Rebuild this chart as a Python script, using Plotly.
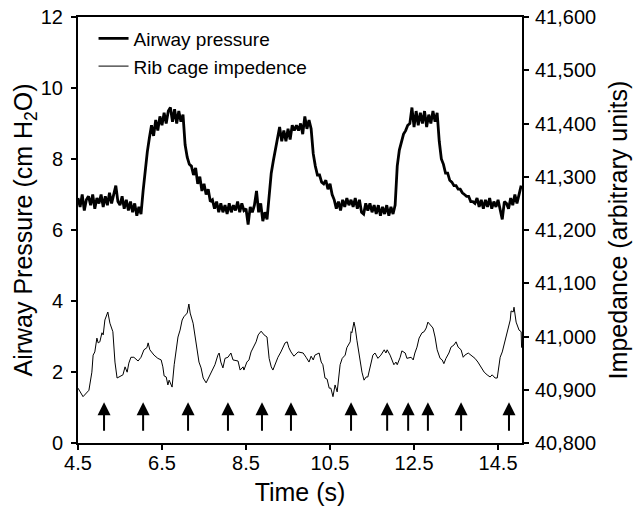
import plotly.graph_objects as go

# ---------------- data ----------------
pressure_time = [
    4.50, 4.55, 4.60, 4.65, 4.70, 4.75, 4.80, 4.85, 4.90, 4.95,
    5.00, 5.05, 5.10, 5.15, 5.20, 5.25, 5.30, 5.35, 5.40, 5.45,
    5.50, 5.55, 5.60, 5.65, 5.70, 5.75, 5.80, 5.85, 5.90, 5.95,
    6.00, 6.05, 6.10, 6.15, 6.20, 6.25, 6.30, 6.35, 6.40, 6.45,
    6.50, 6.55, 6.60, 6.65, 6.70, 6.75, 6.80, 6.85, 6.90, 6.95,
    7.00, 7.05, 7.10, 7.15, 7.20, 7.25, 7.30, 7.35, 7.40, 7.45,
    7.50, 7.55, 7.60, 7.65, 7.70, 7.75, 7.80, 7.85, 7.90, 7.95,
    8.00, 8.05, 8.10, 8.15, 8.20, 8.25, 8.30, 8.35, 8.40, 8.45,
    8.50, 8.55, 8.60, 8.65, 8.70, 8.75, 8.80, 8.85, 8.90, 8.95,
    9.00, 9.05, 9.10, 9.15, 9.20, 9.25, 9.30, 9.35, 9.40, 9.45,
    9.50, 9.55, 9.60, 9.65, 9.70, 9.75, 9.80, 9.85, 9.90, 9.95,
    10.00, 10.05, 10.10, 10.15, 10.20, 10.25, 10.30, 10.35, 10.40, 10.45,
    10.50, 10.55, 10.60, 10.65, 10.70, 10.75, 10.80, 10.85, 10.90, 10.95,
    11.00, 11.05, 11.10, 11.15, 11.20, 11.25, 11.30, 11.35, 11.40, 11.45,
    11.50, 11.55, 11.60, 11.65, 11.70, 11.75, 11.80, 11.85, 11.90, 11.95,
    12.00, 12.05, 12.10, 12.15, 12.20, 12.25, 12.30, 12.35, 12.40, 12.45,
    12.50, 12.55, 12.60, 12.65, 12.70, 12.75, 12.80, 12.85, 12.90, 12.95,
    13.00, 13.05, 13.10, 13.15, 13.20, 13.25, 13.30, 13.35, 13.40, 13.45,
    13.50, 13.55, 13.60, 13.65, 13.70, 13.75, 13.80, 13.85, 13.90, 13.95,
    14.00, 14.05, 14.10, 14.15, 14.20, 14.25, 14.30, 14.35, 14.40, 14.45,
    14.50, 14.55, 14.60, 14.65, 14.70, 14.75, 14.80, 14.85, 14.90, 14.95,
    15.00, 15.05,
]
pressure_cmH2O = [
    6.90, 6.65, 7.00, 6.55, 6.85, 6.95, 6.70, 7.00, 6.60, 6.90,
    6.75, 7.00, 6.65, 6.95, 6.70, 7.05, 6.75, 7.00, 7.25, 6.80,
    6.70, 6.95, 6.60, 6.85, 6.55, 6.80, 6.50, 6.75, 6.40, 6.65,
    6.45, 7.10, 7.75, 8.20, 8.60, 8.95, 8.65, 9.10, 8.80, 9.20,
    8.95, 9.30, 9.00, 9.35, 9.45, 9.05, 9.40, 9.00, 9.35, 9.05,
    9.25, 8.40, 8.05, 7.85, 7.80, 7.55, 7.75, 7.30, 7.50, 7.10,
    7.30, 7.00, 7.15, 6.80, 6.85, 6.60, 6.80, 6.50, 6.75, 6.50,
    6.70, 6.45, 6.75, 6.50, 6.70, 6.55, 6.80, 6.50, 6.75, 6.55,
    6.60, 6.15, 6.65, 6.50, 6.70, 7.10, 6.50, 6.75, 6.25, 6.50,
    6.30, 6.95, 7.60, 7.95, 8.30, 8.55, 8.90, 8.50, 8.80, 8.50,
    8.85, 8.55, 8.95, 8.80, 8.95, 8.80, 9.00, 8.70, 9.20, 8.85,
    9.10, 8.85, 8.15, 7.80, 7.55, 7.55, 7.35, 7.30, 7.40, 7.15,
    7.30, 7.00, 6.85, 6.60, 6.80, 6.55, 6.85, 6.65, 6.90, 6.70,
    6.85, 6.65, 6.90, 6.60, 6.85, 6.50, 6.45, 6.75, 6.55, 6.75,
    6.50, 6.70, 6.45, 6.70, 6.40, 6.65, 6.45, 6.70, 6.40, 6.65,
    6.45, 6.70, 7.80, 8.25, 8.45, 8.70, 8.80, 8.95, 9.00, 9.45,
    8.90, 9.35, 8.95, 9.30, 9.00, 9.35, 8.90, 9.25, 9.00, 9.35,
    9.05, 9.30, 8.50, 8.00, 7.85, 7.60, 7.60, 7.40, 7.35, 7.25,
    7.25, 7.15, 7.15, 7.05, 7.00, 6.95, 6.95, 6.80, 6.80, 6.75,
    6.90, 6.65, 6.85, 6.60, 6.85, 6.65, 6.90, 6.60, 6.80, 6.65,
    6.85, 6.60, 6.30, 6.80, 6.75, 6.60, 6.90, 6.70, 7.00, 6.75,
    7.05, 7.25,
]

impedance_time = [
    4.50, 4.62, 4.76, 4.83, 4.86, 4.90, 4.95, 4.98, 5.02, 5.07,
    5.10, 5.14, 5.21, 5.26, 5.33, 5.38, 5.43, 5.52, 5.57, 5.62,
    5.67, 5.71, 5.76, 5.83, 5.93, 6.00, 6.07, 6.14, 6.17, 6.21,
    6.31, 6.40, 6.48, 6.52, 6.55, 6.60, 6.64, 6.67, 6.74, 6.79,
    6.88, 6.93, 6.98, 7.02, 7.10, 7.14, 7.17, 7.24, 7.31, 7.38,
    7.43, 7.48, 7.55, 7.62, 7.71, 7.76, 7.83, 7.86, 7.90, 7.95,
    8.00, 8.07, 8.14, 8.19, 8.31, 8.36, 8.43, 8.45, 8.52, 8.57,
    8.62, 8.69, 8.74, 8.79, 8.86, 8.93, 9.00, 9.05, 9.10, 9.14,
    9.19, 9.26, 9.33, 9.38, 9.43, 9.48, 9.52, 9.57, 9.64, 9.74,
    9.86, 9.93, 10.00, 10.05, 10.10, 10.14, 10.24, 10.29, 10.33, 10.38,
    10.43, 10.48, 10.52, 10.57, 10.62, 10.67, 10.74, 10.79, 10.86, 10.90,
    10.98, 11.00, 11.02, 11.07, 11.10, 11.14, 11.21, 11.26, 11.31, 11.36,
    11.40, 11.48, 11.52, 11.57, 11.64, 11.71, 11.79, 11.83, 11.86, 11.93,
    11.98, 12.02, 12.07, 12.10, 12.17, 12.21, 12.29, 12.33, 12.43, 12.48,
    12.52, 12.57, 12.62, 12.69, 12.74, 12.79, 12.83, 12.90, 12.95, 13.00,
    13.05, 13.12, 13.17, 13.21, 13.26, 13.33, 13.38, 13.45, 13.50, 13.55,
    13.62, 13.67, 13.71, 13.79, 13.86, 13.95, 14.02, 14.10, 14.17, 14.24,
    14.31, 14.36, 14.43, 14.48, 14.55, 14.60, 14.67, 14.71, 14.79, 14.81,
    14.86, 14.88, 14.93, 15.00, 15.05, 15.06,
]
impedance_units = [
    40903, 40887, 40899, 40933, 40965, 40971, 40997, 40988, 40990, 41007,
    41003, 41031, 41046, 41025, 41009, 40952, 40922, 40926, 40928, 40943,
    40933, 40950, 40961, 40961, 40954, 40961, 40975, 40979, 40988, 40975,
    40965, 40959, 40956, 40943, 40926, 40924, 40909, 40918, 40905, 40947,
    40999, 41012, 41031, 41037, 41044, 41061, 41044, 41025, 40988, 40952,
    40941, 40922, 40913, 40924, 40941, 40947, 40965, 40969, 40952, 40941,
    40959, 40961, 40969, 40956, 40954, 40937, 40943, 40937, 40952, 40956,
    40971, 40984, 40990, 41003, 41010, 41003, 40999, 40959, 40943, 40937,
    40947, 40961, 40971, 40980, 40988, 40990, 40979, 40971, 40963, 40971,
    40969, 40961, 40952, 40963, 40956, 40965, 40969, 40952, 40947, 40922,
    40920, 40903, 40903, 40887, 40909, 40896, 40947, 40959, 40965, 40979,
    40990, 41009, 41007, 41027, 41016, 40993, 40952, 40933, 40918, 40924,
    40924, 40950, 40965, 40969, 40959, 40965, 40975, 40969, 40975, 40965,
    40956, 40947, 40952, 40947, 40961, 40973, 40969, 40959, 40961, 40956,
    40969, 40980, 40997, 41007, 41009, 41016, 41027, 41021, 41016, 40999,
    40975, 40959, 40956, 40949, 40959, 40969, 40980, 40984, 40990, 40980,
    40975, 40961, 40965, 40969, 40965, 40959, 40952, 40941, 40933, 40928,
    40924, 40928, 40922, 40922, 40961, 40971, 40993, 41009, 41031, 41048,
    41046, 41055, 41027, 41012, 41009, 40979,
]

arrow_times = [5.12, 6.05, 7.12, 8.07, 8.88, 9.57, 11.00, 11.86, 12.36, 12.83, 13.62, 14.76]
arrow_base = 0.3
arrow_tip = 1.15

x_tick_vals = [4.5, 6.5, 8.5, 10.5, 12.5, 14.5]
x_tick_text = ["4.5", "6.5", "8.5", "10.5", "12.5", "14.5"]
y_tick_vals = [0, 2, 4, 6, 8, 10, 12]
y2_tick_vals = [40800, 40900, 41000, 41100, 41200, 41300, 41400, 41500, 41600]

# ---------------- figure ----------------
FONT = "Arial, 'Liberation Sans', sans-serif"

fig = go.Figure()
fig.add_trace(go.Scatter(
    x=pressure_time, y=pressure_cmH2O, mode="lines", name="Airway pressure",
    line=dict(color="black", width=2.8), yaxis="y",
))
fig.add_trace(go.Scatter(
    x=impedance_time, y=impedance_units, mode="lines", name="Rib cage impedence",
    line=dict(color="black", width=1), yaxis="y2",
))

for t in arrow_times:
    fig.add_annotation(
        x=t, y=arrow_tip, ax=t, ay=arrow_base, xref="x", yref="y", axref="x", ayref="y",
        showarrow=True, arrowhead=2, arrowsize=1.3, arrowwidth=2, arrowcolor="black",
        standoff=0, startstandoff=0, text="",
    )

axis_common = dict(
    showgrid=False, zeroline=False, showline=True, linecolor="black", linewidth=2,
    ticks="outside", ticklen=5, tickwidth=2, tickcolor="black",
    tickfont=dict(family=FONT, size=20, color="black"),
)

fig.update_layout(
    width=644, height=509,
    margin=dict(l=78, r=122, t=17, b=66),
    paper_bgcolor="white", plot_bgcolor="white",
    font=dict(family=FONT, color="black"),
    showlegend=True,
    legend=dict(
        x=0.035, y=0.994, xanchor="left", yanchor="top",
        bgcolor="rgba(0,0,0,0)", borderwidth=0,
        font=dict(family=FONT, size=19, color="black"),
        tracegroupgap=0, itemwidth=30,
    ),
    xaxis=dict(
        range=[4.5, 15.07], tickvals=x_tick_vals, ticktext=x_tick_text,
        mirror=True, automargin=False, ticklabelstandoff=-4,
        title=dict(text="Time (s)", font=dict(family=FONT, size=25, color="black"), standoff=10),
        **axis_common,
    ),
    yaxis=dict(
        range=[0, 12], tickvals=y_tick_vals, automargin=False, ticklabelstandoff=4,
        title=dict(text="Airway Pressure (cm H<sub>2</sub>O)", font=dict(family=FONT, size=25, color="black"), standoff=1),
        **axis_common,
    ),
    yaxis2=dict(
        range=[40800, 41600], tickvals=y2_tick_vals, tickformat=",d",
        overlaying="y", side="right", automargin=False, ticklabelstandoff=2,
        title=dict(text="Impedance (arbitrary units)", font=dict(family=FONT, size=25, color="black"), standoff=14),
        **axis_common,
    ),
)

fig.write_html(
    "out.html",
    config={"displayModeBar": False},
    post_script="document.body.style.margin='0';document.body.style.overflow='hidden';",
)
